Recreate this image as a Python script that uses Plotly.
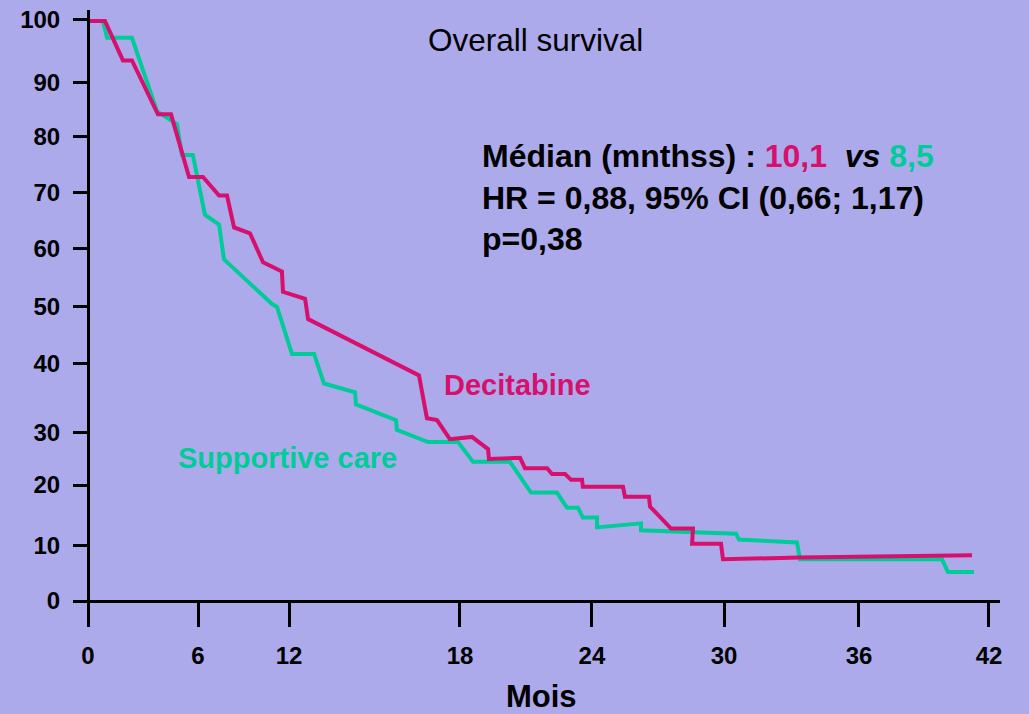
import plotly.graph_objects as go

# Kaplan-Meier style curves (months, % surviving)
dec_months = [0, 0.79, 1.63, 2.05, 3.26, 3.87, 4.71, 5.36, 6.11, 6.48, 6.81, 7.55, 8.16, 9.04,
              9.09, 10.12, 10.26, 15.43, 15.80, 16.27, 16.87, 17.90, 18.65, 18.69, 20.14, 20.37,
              21.40, 21.63, 22.24, 22.52, 23.03, 23.07, 24.94, 25.03, 26.15, 26.20, 27.18, 28.20,
              28.16, 29.51, 29.60, 33.14, 41.21]
dec_surv = [100, 100, 93.2, 93.2, 83.9, 83.9, 73.1, 73.1, 69.9, 69.9, 64.4, 63.4, 58.4, 56.8,
            53.3, 52.1, 48.6, 38.9, 31.5, 31.2, 27.9, 28.3, 26.2, 24.5, 24.7, 22.9,
            22.9, 21.9, 21.9, 20.9, 20.9, 19.7, 19.7, 18.0, 18.0, 16.3, 12.5, 12.5,
            9.9, 9.9, 7.2, 7.5, 7.9]

sc_months = [0, 0.70, 0.89, 2.05, 3.22, 4.15, 4.38, 4.89, 5.45, 6.11, 6.34, 8.58, 8.81, 9.51,
             10.54, 11.00, 12.45, 12.49, 14.36, 14.40, 15.85, 17.25, 17.95, 19.67, 20.65, 21.86,
             22.33, 22.84, 23.07, 23.73, 23.73, 25.78, 25.78, 30.21, 30.35, 33.05, 33.19, 39.81,
             40.09, 41.30]
sc_surv = [100, 100, 97.1, 97.1, 84.4, 82.2, 76.9, 76.9, 66.6, 64.9, 58.9, 51.2, 50.7, 42.6,
           42.6, 37.5, 36.0, 33.9, 31.2, 29.5, 27.4, 27.4, 24.0, 24.0, 18.7, 18.7,
           16.1, 16.1, 14.4, 14.4, 12.7, 13.4, 12.2, 11.6, 10.6, 10.1, 7.2, 7.2,
           5.0, 5.0]

# Tick labels (positions follow the hand-placed marks of the original slide)
x_tick_text = ["0", "6", "12", "18", "24", "30", "36", "42"]
x_tick_pos = [0, 5.13, 9.37, 17.34, 23.49, 29.65, 35.94, 42.0]
y_tick_text = ["0", "10", "20", "30", "40", "50", "60", "70", "80", "90", "100"]
y_tick_pos = [0, 9.6, 20.0, 29.1, 40.9, 50.7, 60.8, 70.4, 80.1, 89.4, 100.2]

BG = "rgb(172,170,235)"
PINK = "rgb(214,16,108)"
GREEN = "rgb(0,204,153)"
FONT = "Liberation Sans, Arial, sans-serif"

fig = go.Figure()
fig.add_trace(go.Scatter(x=sc_months, y=sc_surv, mode="lines", name="Supportive care",
                         line=dict(color=GREEN, width=4)))
fig.add_trace(go.Scatter(x=dec_months, y=dec_surv, mode="lines", name="Decitabine",
                         line=dict(color=PINK, width=4)))

fig.update_layout(
    width=1029, height=714,
    margin=dict(l=78, r=29, t=6, b=102),
    paper_bgcolor=BG, plot_bgcolor=BG,
    showlegend=False,
    font=dict(family=FONT, color="black"),
    xaxis=dict(
        range=[-0.466, 42.514], anchor="free", position=0.01815,
        showgrid=False, zeroline=False,
        showline=True, linecolor="black", linewidth=3,
        ticks="outside", ticklen=24, tickwidth=2.5, tickcolor="black",
        tickvals=x_tick_pos, ticktext=x_tick_text,
        tickfont=dict(size=24, weight="bold", family=FONT),
        ticklabelstandoff=8,
    ),
    yaxis=dict(
        range=[-1.884, 101.884], anchor="free", position=0.01085,
        showgrid=False, zeroline=False,
        showline=True, linecolor="black", linewidth=3,
        ticks="outside", ticklen=14, tickwidth=2.5, tickcolor="black",
        tickvals=y_tick_pos, ticktext=y_tick_text,
        tickfont=dict(size=24, weight="bold", family=FONT),
        ticklabelstandoff=8,
    ),
)

fig.add_annotation(x=0.4967, y=0.9505, xref="paper", yref="paper",
                   text="Overall survival", showarrow=False,
                   font=dict(size=31.5, color="black", family=FONT),
                   xanchor="center", yanchor="middle")

fig.add_annotation(x=18.27, y=69.5, xref="x", yref="y", showarrow=False,
                   xanchor="left", yanchor="middle", align="left",
                   text=("<b>Médian (mnthss) : <span style='color:" + PINK + "'>10,1</span>"
                         "  <i>vs</i> <span style='color:" + GREEN + "'>8,5</span></b><br>"
                         "<b>HR = 0,88, 95% CI (0,66; 1,17)</b><br><b>p=0,38</b>"),
                   font=dict(size=32, color="black", family=FONT))

fig.add_annotation(x=20.04, y=37.3, xref="x", yref="y", text="<b>Decitabine</b>",
                   showarrow=False, font=dict(size=29, color=PINK, family=FONT))
fig.add_annotation(x=9.32, y=24.7, xref="x", yref="y", text="<b>Supportive care</b>",
                   showarrow=False, font=dict(size=29, color=GREEN, family=FONT))

fig.add_annotation(x=0.503, y=-0.140, xref="paper", yref="paper", text="<b>Mois</b>",
                   showarrow=False, font=dict(size=31, color="black", family=FONT),
                   xanchor="center", yanchor="middle")

fig.write_html("out.html")
